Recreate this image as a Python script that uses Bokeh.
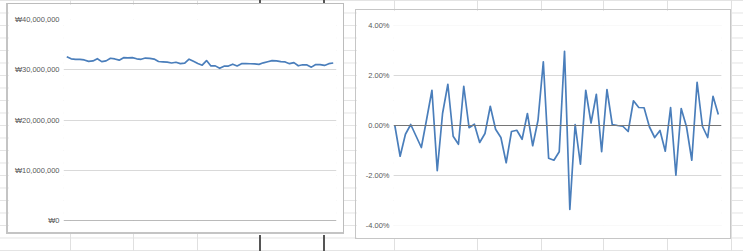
from bokeh.plotting import figure
from bokeh.layouts import row
from bokeh.models import Range1d, FixedTicker, Span
from bokeh.embed import file_html
from bokeh.resources import INLINE

# ---- data ----
prices = [
    32580000, 32180000, 32070000, 32080000, 31950000, 31670000, 31750000, 32200000,
    31620000, 31770000, 32290000, 32150000, 31910000, 32410000, 32380000, 32400000,
    32180000, 32080000, 32330000, 32280000, 32120000, 31640000, 31570000, 31510000,
    31340000, 31490000, 31230000, 31300000, 32100000, 31680000, 31240000, 30910000,
    31830000, 30760000, 30770000, 30290000, 30710000, 30730000, 31100000, 30760000,
    31200000, 31200000, 31190000, 31170000, 31080000, 31380000, 31600000, 31810000,
    31780000, 31620000, 31550000, 31210000, 31430000, 30790000, 30990000, 30960000,
    30520000, 31040000, 31020000, 30860000, 31210000, 31340000,
]
returns_pct = [
    0.00, -1.23, -0.35, 0.04, -0.42, -0.88, 0.25, 1.41,
    -1.81, 0.48, 1.65, -0.43, -0.75, 1.57, -0.09, 0.05,
    -0.68, -0.32, 0.77, -0.15, -0.48, -1.49, -0.24, -0.19,
    -0.55, 0.48, -0.81, 0.21, 2.55, -1.31, -1.39, -1.05,
    2.97, -3.36, 0.04, -1.55, 1.41, 0.10, 1.25, -1.05,
    1.44, 0.04, 0.00, -0.03, -0.24, 0.99, 0.72, 0.71,
    -0.05, -0.48, -0.20, -1.03, 0.72, -1.99, 0.68, -0.05,
    -1.39, 1.73, -0.03, -0.48, 1.17, 0.44,
]
price_ticks = [0, 10000000, 20000000, 30000000, 40000000]
price_tick_labels = ["₩0", "₩10,000,000", "₩20,000,000", "₩30,000,000", "₩40,000,000"]
return_ticks = [-4, -2, 0, 2, 4]
return_tick_labels = ["-4.00%", "-2.00%", "0.00%", "2.00%", "4.00%"]

LINE = "#4a7ebb"
GRID = "#d9d9d9"
AXIS = "#767676"
LABEL = "#595959"
FONT = "Liberation Sans"


def style_axes(p, ticks, labels):
    p.xaxis.visible = False
    p.xgrid.visible = False
    ax = p.yaxis[0]
    ax.ticker = FixedTicker(ticks=ticks)
    ax.major_label_overrides = {t: l for t, l in zip(ticks, labels)}
    ax.axis_line_color = None
    ax.major_tick_line_color = None
    ax.minor_tick_line_color = None
    ax.major_tick_out = 0
    ax.major_label_standoff = 4
    ax.major_label_text_font = FONT
    ax.major_label_text_font_size = "7.5px"
    ax.major_label_text_color = LABEL
    p.ygrid.grid_line_color = GRID
    p.ygrid.grid_line_width = 1
    p.outline_line_color = None
    p.background_fill_color = "white"
    p.border_fill_color = "white"


# ---- left chart: prices ----
n1 = len(prices)
p1 = figure(width=338, height=231, output_backend="svg", toolbar_location=None,
            x_range=Range1d(-0.75, n1 - 0.25), y_range=Range1d(0, 40000000),
            min_border_left=55, min_border_right=10, min_border_top=15, min_border_bottom=15)
style_axes(p1, price_ticks, price_tick_labels)
p1.ygrid.ticker = FixedTicker(ticks=price_ticks[1:])
p1.add_layout(Span(location=price_ticks[0], dimension="width", line_color=AXIS, line_width=1.2))
p1.line(x=list(range(n1)), y=prices, line_color=LINE, line_width=1.7, line_join="round")
p1.styles = {"border": "1px solid #bcbcbc", "border-left": "2px solid #c4c4c4",
             "border-bottom": "2px solid #c4c4c4"}
p1.margin = (3, 0, 0, 6)

# ---- right chart: returns ----
n2 = len(returns_pct)
p2 = figure(width=376, height=230, output_backend="svg", toolbar_location=None,
            x_range=Range1d(-0.25, n2 - 0.4), y_range=Range1d(-4, 4),
            min_border_left=37, min_border_right=11, min_border_top=14, min_border_bottom=14)
style_axes(p2, return_ticks, return_tick_labels)
p2.ygrid.ticker = FixedTicker(ticks=[t for t in return_ticks if t != 0])
p2.add_layout(Span(location=0, dimension="width", line_color=AXIS, line_width=1.2))
p2.line(x=list(range(n2)), y=returns_pct, line_color=LINE, line_width=1.7, line_join="round")
p2.styles = {"border": "1px solid #c6c6c6"}
p2.margin = (9, 0, 0, 11)


# spreadsheet-like backdrop
def vgradient(lines):
    stops = []
    for x, w, c in sorted(lines):
        stops.append(f"transparent {x}px, {c} {x}px, {c} {x + w}px, transparent {x + w}px")
    return "linear-gradient(90deg, " + ", ".join(stops) + ")"


light = vgradient([(x, 1, "#e0e0e0") for x in [70, 133, 197, 394, 477, 541, 603, 667, 731]])
dark = vgradient([(x, 2, "#555555") for x in [259, 323]])
hgrad = "repeating-linear-gradient(180deg, #e3e3e3 0px, #e3e3e3 1px, transparent 1px, transparent 12.5px)"

layout = row(p1, p2)
layout.styles = {"background-color": "white",
                 "background-image": ", ".join([dark, dark, light, hgrad]),
                 "background-size": "743px 16px, 743px 3px, 743px 251px, 743px 12.5px",
                 "background-position": "0px 235px, 0px 0px, 0px 0px, 0px 0px",
                 "background-repeat": "no-repeat, no-repeat, no-repeat, repeat",
                 "width": "743px", "height": "251px"}

open("out.html", "w").write(file_html(layout, INLINE))
